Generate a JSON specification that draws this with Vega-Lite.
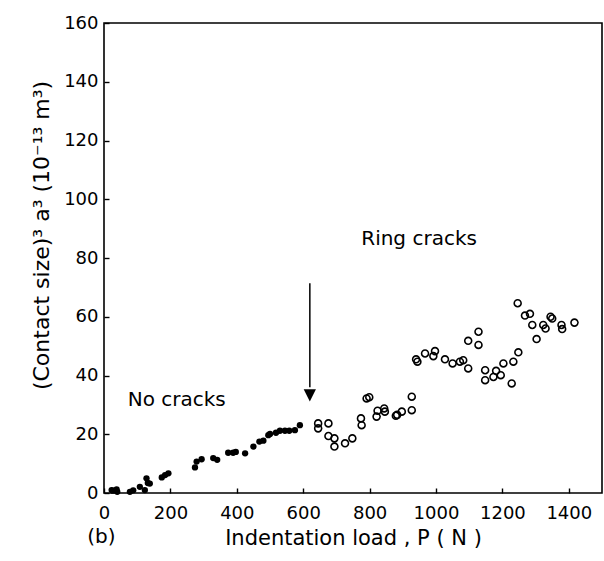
{
  "$schema": "https://vega.github.io/schema/vega-lite/v6.json",
  "width": 498,
  "height": 470,
  "autosize": {"type": "none"},
  "padding": {"left": 104, "top": 23, "right": 2, "bottom": 68},
  "background": "white",
  "config": {
    "font": "DejaVu Sans",
    "view": {"stroke": "black", "strokeWidth": 1.6},
    "axis": {
      "grid": false,
      "labelColor": "black",
      "labelFont": "DejaVu Sans",
      "labelFontSize": 18,
      "titleColor": "black",
      "titleFont": "DejaVu Sans",
      "titleFontWeight": "normal",
      "titleFontSize": 21
    }
  },
  "datasets": {
    "indent": [
      {"P": 23, "a3": 1.0, "cracked": false},
      {"P": 27, "a3": 0.8, "cracked": false},
      {"P": 38, "a3": 1.2, "cracked": false},
      {"P": 40, "a3": 0.4, "cracked": false},
      {"P": 78, "a3": 0.4, "cracked": false},
      {"P": 88, "a3": 0.9, "cracked": false},
      {"P": 108, "a3": 2.1, "cracked": false},
      {"P": 123, "a3": 1.0, "cracked": false},
      {"P": 128, "a3": 5.0, "cracked": false},
      {"P": 132, "a3": 3.4, "cracked": false},
      {"P": 138, "a3": 3.2, "cracked": false},
      {"P": 174, "a3": 5.3, "cracked": false},
      {"P": 184, "a3": 6.1, "cracked": false},
      {"P": 194, "a3": 6.7, "cracked": false},
      {"P": 274, "a3": 8.7, "cracked": false},
      {"P": 279, "a3": 10.7, "cracked": false},
      {"P": 294, "a3": 11.5, "cracked": false},
      {"P": 329, "a3": 11.9, "cracked": false},
      {"P": 341, "a3": 11.3, "cracked": false},
      {"P": 374, "a3": 13.7, "cracked": false},
      {"P": 389, "a3": 13.7, "cracked": false},
      {"P": 397, "a3": 14.0, "cracked": false},
      {"P": 425, "a3": 13.5, "cracked": false},
      {"P": 450, "a3": 15.8, "cracked": false},
      {"P": 468, "a3": 17.5, "cracked": false},
      {"P": 480, "a3": 17.8, "cracked": false},
      {"P": 495, "a3": 19.7, "cracked": false},
      {"P": 500, "a3": 20.1, "cracked": false},
      {"P": 518, "a3": 20.5, "cracked": false},
      {"P": 530, "a3": 21.2, "cracked": false},
      {"P": 545, "a3": 21.2, "cracked": false},
      {"P": 558, "a3": 21.2, "cracked": false},
      {"P": 575, "a3": 21.4, "cracked": false},
      {"P": 590, "a3": 23.1, "cracked": false},
      {"P": 645, "a3": 23.7, "cracked": true},
      {"P": 645, "a3": 22.0, "cracked": true},
      {"P": 676, "a3": 23.7, "cracked": true},
      {"P": 676, "a3": 19.4, "cracked": true},
      {"P": 694, "a3": 18.6, "cracked": true},
      {"P": 694, "a3": 15.8, "cracked": true},
      {"P": 726, "a3": 16.9, "cracked": true},
      {"P": 748, "a3": 18.6, "cracked": true},
      {"P": 774, "a3": 25.4, "cracked": true},
      {"P": 776, "a3": 23.1, "cracked": true},
      {"P": 791, "a3": 32.2, "cracked": true},
      {"P": 799, "a3": 32.6, "cracked": true},
      {"P": 821, "a3": 26.0, "cracked": true},
      {"P": 824, "a3": 28.0, "cracked": true},
      {"P": 844, "a3": 28.8, "cracked": true},
      {"P": 846, "a3": 27.7, "cracked": true},
      {"P": 879, "a3": 26.3, "cracked": true},
      {"P": 883, "a3": 26.6, "cracked": true},
      {"P": 897, "a3": 27.7, "cracked": true},
      {"P": 927, "a3": 32.8, "cracked": true},
      {"P": 927, "a3": 28.2, "cracked": true},
      {"P": 940, "a3": 45.5, "cracked": true},
      {"P": 944, "a3": 44.7, "cracked": true},
      {"P": 967, "a3": 47.5, "cracked": true},
      {"P": 992, "a3": 46.6, "cracked": true},
      {"P": 997, "a3": 48.3, "cracked": true},
      {"P": 1027, "a3": 45.5, "cracked": true},
      {"P": 1050, "a3": 44.1, "cracked": true},
      {"P": 1072, "a3": 44.7, "cracked": true},
      {"P": 1082, "a3": 45.2, "cracked": true},
      {"P": 1097, "a3": 42.4, "cracked": true},
      {"P": 1097, "a3": 51.8, "cracked": true},
      {"P": 1128, "a3": 54.9, "cracked": true},
      {"P": 1128, "a3": 50.4, "cracked": true},
      {"P": 1148, "a3": 41.8, "cracked": true},
      {"P": 1148, "a3": 38.4, "cracked": true},
      {"P": 1173, "a3": 39.5, "cracked": true},
      {"P": 1181, "a3": 41.6, "cracked": true},
      {"P": 1195, "a3": 40.1, "cracked": true},
      {"P": 1203, "a3": 44.1, "cracked": true},
      {"P": 1228, "a3": 37.3, "cracked": true},
      {"P": 1233, "a3": 44.7, "cracked": true},
      {"P": 1248, "a3": 47.9, "cracked": true},
      {"P": 1246, "a3": 64.6, "cracked": true},
      {"P": 1268, "a3": 60.4, "cracked": true},
      {"P": 1283, "a3": 61.0, "cracked": true},
      {"P": 1290, "a3": 57.2, "cracked": true},
      {"P": 1303, "a3": 52.4, "cracked": true},
      {"P": 1323, "a3": 57.2, "cracked": true},
      {"P": 1330, "a3": 56.0, "cracked": true},
      {"P": 1345, "a3": 60.0, "cracked": true},
      {"P": 1350, "a3": 59.4, "cracked": true},
      {"P": 1378, "a3": 57.2, "cracked": true},
      {"P": 1380, "a3": 55.8, "cracked": true},
      {"P": 1417, "a3": 58.0, "cracked": true}
    ],
    "notes": [
      {"P": 219, "a3": 29.6, "note": "No cracks"},
      {"P": 949, "a3": 84.4, "note": "Ring cracks"},
      {"P": -8, "a3": -16.9, "note": "(b)"}
    ],
    "arrow": [
      {"P": 620, "top": 71.4, "base": 36.0, "head": 33.2}
    ]
  },
  "layer": [
    {
      "data": {"name": "indent"},
      "transform": [{"filter": "!datum.cracked"}],
      "mark": {"type": "point", "shape": "circle", "filled": true, "color": "black", "size": 40, "opacity": 1},
      "encoding": {
        "x": {
          "field": "P",
          "type": "quantitative",
          "scale": {"domain": [0, 1500], "nice": false, "zero": false},
          "axis": {
            "title": "Indentation load , P ( N )",
            "values": [0, 100, 200, 300, 400, 500, 600, 700, 800, 900, 1000, 1100, 1200, 1300, 1400],
            "labelExpr": "datum.value % 200 == 0 ? datum.label : ''",
            "format": "d",
            "domain": false,
            "ticks": true,
            "tickSize": -5,
            "tickWidth": 1.4,
            "tickColor": "black",
            "labelPadding": 16,
            "labelFlush": false,
            "titlePadding": 5
          }
        },
        "y": {
          "field": "a3",
          "type": "quantitative",
          "scale": {"domain": [0, 160], "nice": false, "zero": false},
          "axis": {
            "title": "(Contact size)³  a³  (10⁻¹³ m³)",
            "titleFontSize": 22,
            "values": [0, 10, 20, 30, 40, 50, 60, 70, 80, 90, 100, 110, 120, 130, 140, 150, 160],
            "labelExpr": "datum.value % 20 == 0 ? datum.label : ''",
            "domain": false,
            "ticks": true,
            "tickSize": -5,
            "tickWidth": 1.4,
            "tickColor": "black",
            "labelPadding": 11,
            "labelFlush": false,
            "titlePadding": 10,
            "titleY": 212
          }
        }
      }
    },
    {
      "data": {"name": "indent"},
      "transform": [{"filter": "datum.cracked"}],
      "mark": {"type": "point", "shape": "circle", "filled": false, "stroke": "black", "strokeWidth": 1.6, "size": 48, "opacity": 1},
      "encoding": {
        "x": {"field": "P", "type": "quantitative"},
        "y": {"field": "a3", "type": "quantitative"}
      }
    },
    {
      "data": {"name": "arrow"},
      "mark": {"type": "rule", "color": "black", "strokeWidth": 1.5},
      "encoding": {
        "x": {"field": "P", "type": "quantitative"},
        "y": {"field": "top", "type": "quantitative"},
        "y2": {"field": "base"}
      }
    },
    {
      "data": {"name": "arrow"},
      "mark": {"type": "point", "shape": "M-1,-1L1,-1L0,1Z", "filled": true, "color": "black", "size": 150, "opacity": 1},
      "encoding": {
        "x": {"field": "P", "type": "quantitative"},
        "y": {"field": "head", "type": "quantitative"}
      }
    },
    {
      "data": {"name": "notes"},
      "mark": {"type": "text", "font": "DejaVu Sans", "fontSize": 20, "color": "black", "align": "center", "baseline": "alphabetic"},
      "encoding": {
        "x": {"field": "P", "type": "quantitative"},
        "y": {"field": "a3", "type": "quantitative"},
        "text": {"field": "note"}
      }
    }
  ]
}
